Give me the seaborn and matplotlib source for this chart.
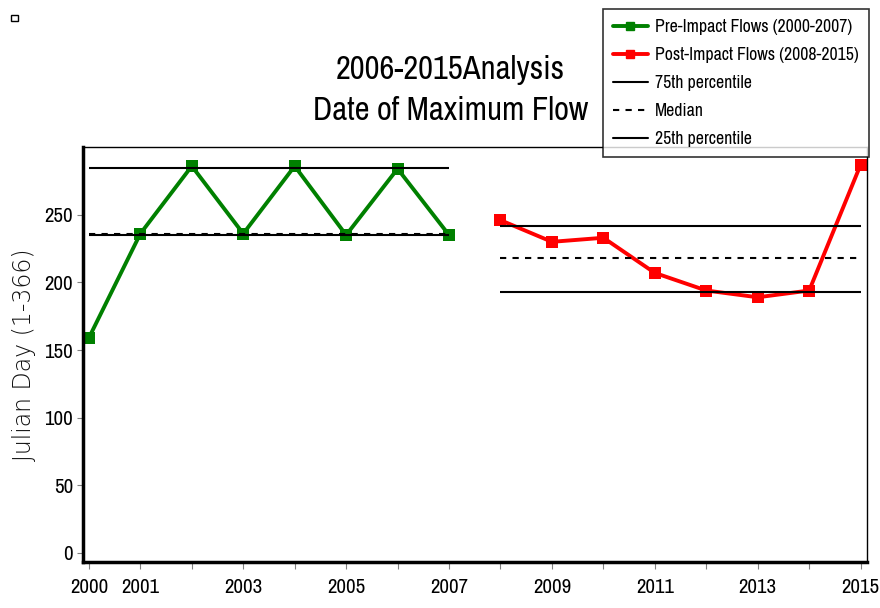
import numpy as np
import pandas as pd
import matplotlib
matplotlib.use("Agg")
import matplotlib.pyplot as plt
import seaborn as sns
from matplotlib.lines import Line2D
from matplotlib.patches import Rectangle

# data
pre_years = [2000, 2001, 2002, 2003, 2004, 2005, 2006, 2007]
pre_days = [159, 236, 286, 236, 286, 235, 284, 235]
post_years = [2008, 2009, 2010, 2011, 2012, 2013, 2014, 2015]
post_days = [246, 230, 233, 207, 194, 189, 194, 287]

pre_p75, pre_med, pre_p25 = 284.5, 235.5, 235
post_p75, post_med, post_p25 = 242, 218, 193

tick_years = list(range(2000, 2016))
label_years = [2000, 2001, 2003, 2005, 2007, 2009, 2011, 2013, 2015]

sns.set_theme(style="white")
plt.rcParams["font.family"] = ["Archivo Narrow", "Liberation Sans Narrow", "DejaVu Sans"]
plt.rcParams["text.color"] = "black"
plt.rcParams["xtick.color"] = "black"
plt.rcParams["ytick.color"] = "black"

df_pre = pd.DataFrame({"year": pre_years, "day": pre_days})
df_post = pd.DataFrame({"year": post_years, "day": post_days})

fig = plt.figure(figsize=(8.8, 6.08), dpi=100)
ax = fig.add_axes([0.094, 0.075, 0.891, 0.683])

sns.lineplot(data=df_pre, x="year", y="day", ax=ax, color="#008000", lw=2.8,
             marker="s", markersize=8.5, markeredgewidth=0)
sns.lineplot(data=df_post, x="year", y="day", ax=ax, color="#ff0000", lw=2.8,
             marker="s", markersize=8.5, markeredgewidth=0)

# percentile lines
for yrs, p75, med, p25 in [(pre_years, pre_p75, pre_med, pre_p25),
                           (post_years, post_p75, post_med, post_p25)]:
    ax.hlines([p75, p25], yrs[0], yrs[-1], color="black", lw=1.5)
    ax.hlines(med, yrs[0], yrs[-1], color="black", lw=1.5, linestyles=(0, (3, 3)))

ax.set_xlim(1999.88, 2015.12)
ax.set_ylim(-7, 300)
ax.set_xticks(tick_years)
ax.set_xticklabels([str(y) if y in label_years else "" for y in tick_years],
                   fontsize=15)
ax.set_yticks([0, 50, 100, 150, 200, 250])
ax.set_yticklabels(["0", "50", "100", "150", "200", "250"], fontsize=15)
ax.tick_params(axis="y", length=4, width=0.8, color="gray", left=True, pad=3)
ax.tick_params(axis="x", length=5, width=0.8, color="gray", bottom=True, pad=6)
ax.set_xlabel("")
ax.set_ylabel("Julian Day (1-366)", fontsize=17, family=["DejaVu Sans"],
              fontweight="light", color="#111111", labelpad=6)

for side, lw in [("left", 2.5), ("bottom", 2.5), ("top", 1), ("right", 1)]:
    ax.spines[side].set_visible(True)
    ax.spines[side].set_color("black")
    ax.spines[side].set_linewidth(lw)

fig.text(0.512, 0.885, "2006-2015Analysis", ha="center", va="center", fontsize=23.5)
fig.text(0.512, 0.818, "Date of Maximum Flow", ha="center", va="center", fontsize=23.5)

handles = [
    Line2D([], [], color="#008000", lw=2.8, marker="s", markersize=6),
    Line2D([], [], color="#ff0000", lw=2.8, marker="s", markersize=6),
    Line2D([], [], color="black", lw=1.5),
    Line2D([], [], color="black", lw=1.5, linestyle=(0, (3, 3))),
    Line2D([], [], color="black", lw=1.5),
]
labels = ["Pre-Impact Flows (2000-2007)", "Post-Impact Flows (2008-2015)",
          "75th percentile", "Median", "25th percentile"]
leg = fig.legend(handles, labels, loc="upper left", bbox_to_anchor=(0.685, 0.985),
                 prop={"size": 12.8}, frameon=True, fancybox=False,
                 handlelength=2, handletextpad=0.4, labelspacing=0.68,
                 borderpad=0.55, borderaxespad=0)
leg.get_frame().set_edgecolor("black")
leg.get_frame().set_linewidth(1.2)

# small checkbox at top left
fig.patches.append(Rectangle((0.013, 0.966), 0.007, 0.01, transform=fig.transFigure,
                             fill=False, edgecolor="black", lw=1))

fig.savefig("out.png", dpi=100)
